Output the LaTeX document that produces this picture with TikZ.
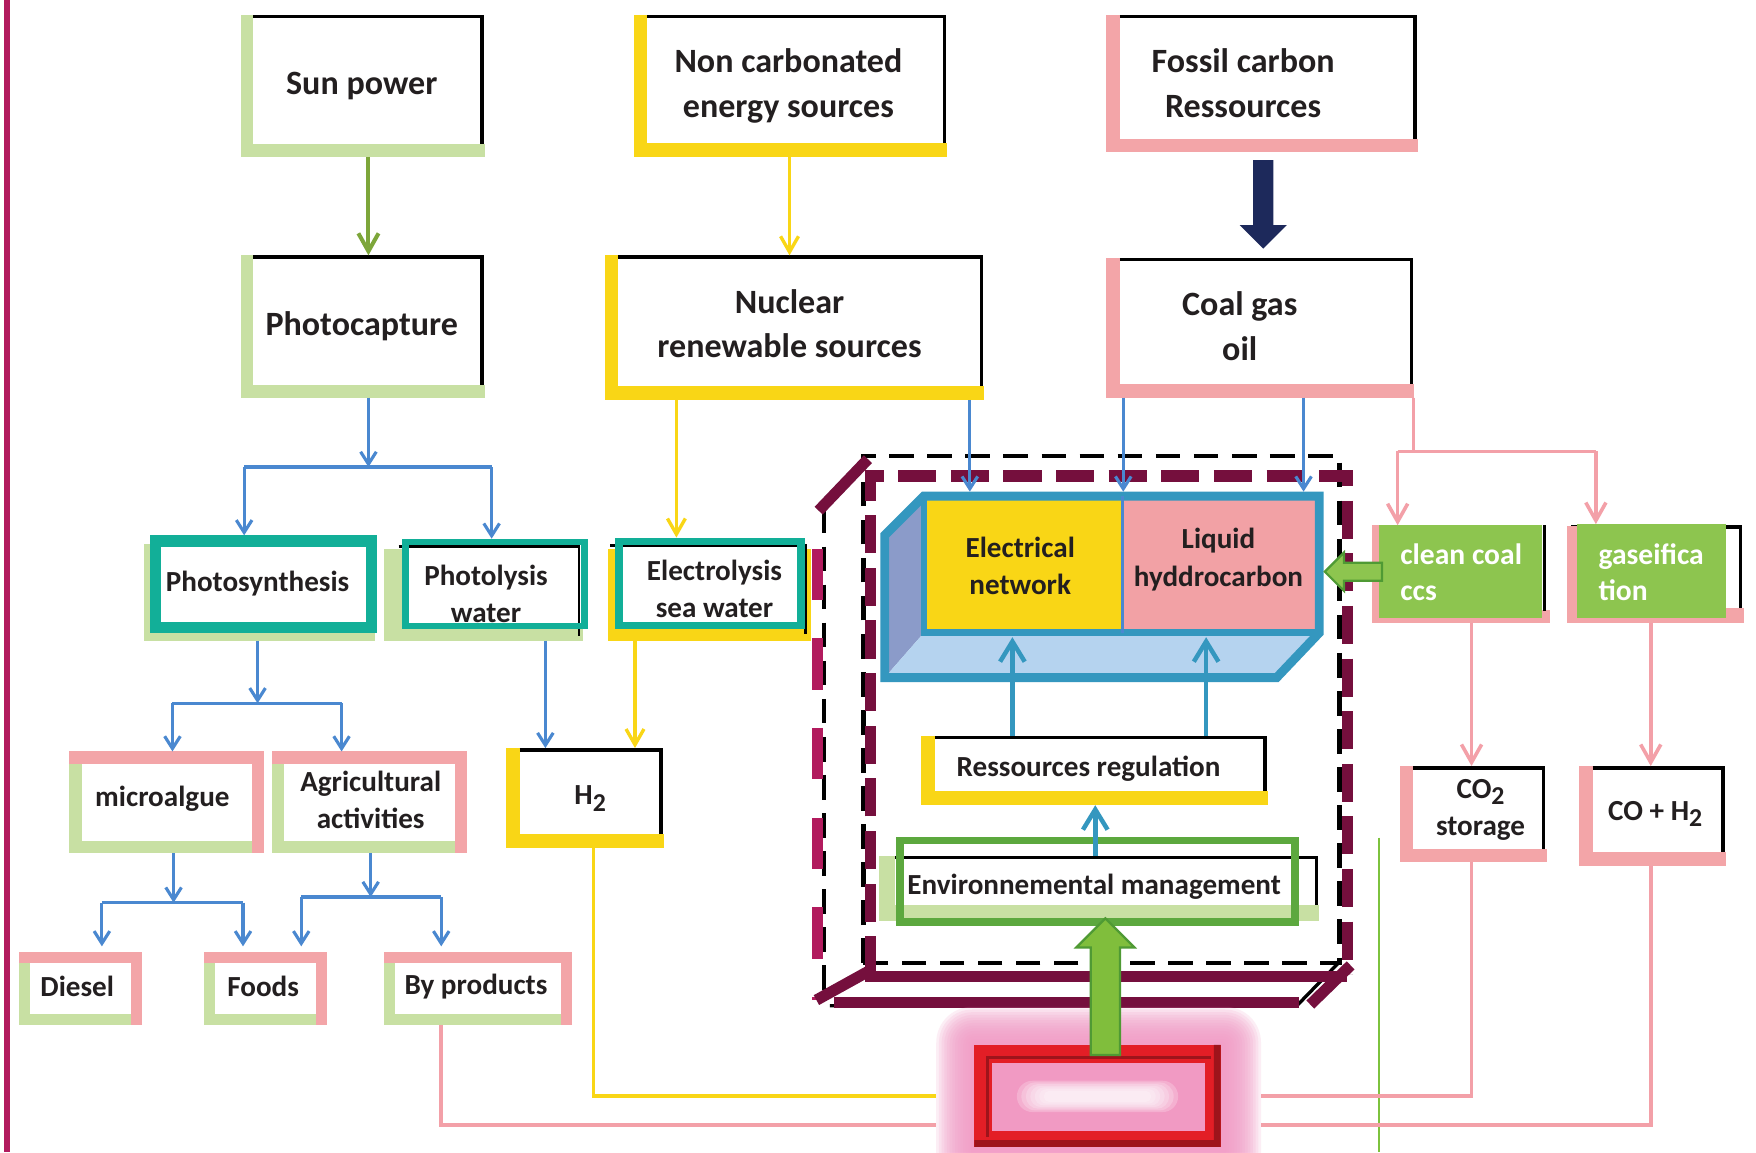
\documentclass[tikz,border=0pt]{standalone}
\usepackage{fontspec}
\setmainfont{Carlito}
\usetikzlibrary{arrows.meta,fit,calc}

\definecolor{lgreen}{HTML}{C8E0A3}
\definecolor{yel}{HTML}{F9D616}
\definecolor{pnk}{HTML}{F3A5A8}
\definecolor{tealc}{HTML}{12AF98}
\definecolor{blu}{HTML}{4A88D0}
\definecolor{steel}{HTML}{3497BF}
\definecolor{maroonc}{HTML}{750F3D}
\definecolor{crim}{HTML}{B21B5E}
\definecolor{navyc}{HTML}{1D295B}
\definecolor{gbox}{HTML}{8DC54F}
\definecolor{gframe}{HTML}{5CA83E}
\definecolor{gdark}{HTML}{4F9A34}
\definecolor{garrow}{HTML}{80BE3C}
\definecolor{olivec}{HTML}{7DA63A}
\definecolor{txtc}{HTML}{231F20}
\definecolor{lface}{HTML}{8B9BC9}
\definecolor{bface}{HTML}{B5D3EF}
\definecolor{lpink}{HTML}{F2A1A5}
\definecolor{redf}{HTML}{E31E26}
\definecolor{redd}{HTML}{9E141B}
\definecolor{glowc}{HTML}{F29BC6}
\definecolor{inpink}{HTML}{F19AC3}
\definecolor{thinline}{HTML}{7DC23D}
\definecolor{pline}{HTML}{F3A0A8}
\definecolor{ylinec}{HTML}{F9D616}

\tikzset{
  boxn/.style={inner sep=0pt, outer sep=0pt, draw=none},
  bigt/.style={inner sep=0pt, align=center, text=txtc, font=\fontsize{15.2pt}{20pt}\selectfont\bfseries},
  smallt/.style={inner sep=0pt, align=center, text=txtc, font=\fontsize{13pt}{16.5pt}\selectfont\bfseries},
  whitet/.style={inner sep=0pt, align=left, text=white, anchor=west, font=\fontsize{13.2pt}{16pt}\selectfont\bfseries},
  bluearr/.style={draw=blu, line width=1.4pt, -{Straight Barb[length=5.5pt,width=7pt]}},
  blueline/.style={draw=blu, line width=1.4pt},
  yelarr/.style={draw=ylinec, line width=1.5pt, -{Straight Barb[length=7pt,width=8pt]}},
  yelline/.style={draw=ylinec, line width=1.5pt},
  pinkarr/.style={draw=pline, line width=1.6pt, -{Straight Barb[length=8pt,width=9pt]}},
  pinkline/.style={draw=pline, line width=1.6pt},
  olivearr/.style={draw=olivec, line width=1.8pt, -{Straight Barb[length=8pt,width=9pt]}},
  steelarr/.style={draw=steel, line width=2pt, -{Straight Barb[length=9pt,width=11pt]}},
  blkdash/.style={draw=black, line width=2pt, dash pattern=on 11pt off 6pt},
  mardash/.style={draw=maroonc, line width=5pt, dash pattern=on 17pt off 6.5pt},
  marsolid/.style={draw=maroonc, line width=5pt},
}

% name, x1, y1, x2, y2, colour, bar thickness
\newcommand\mystdbox[7]{%
  \fill[#6] (#2,#3) rectangle ({#2+#7},#5);
  \fill[#6] (#2,{#5-#7}) rectangle ({#4+1},#5);
  \draw[black,line width=1.6pt] ({#2+#7},{#3+1.6}) -- ({#4-1.6},{#3+1.6}) -- ({#4-1.6},{#5-#7});
  \node[boxn, fit={(#2,#3) (#4,#5)}] (#1) {};
}
% name, x1, y1, x2, y2, bar thickness (pink top/right, green left/bottom)
\newcommand\mypgbox[6]{%
  \fill[pnk] (#2,#3) rectangle (#4,{#3+#6});
  \fill[pnk] ({#4-#6},#3) rectangle (#4,#5);
  \fill[lgreen] (#2,{#3+#6}) rectangle ({#2+#6},#5);
  \fill[lgreen] (#2,{#5-#6}) rectangle ({#4-#6},#5);
  \node[boxn, fit={(#2,#3) (#4,#5)}] (#1) {};
}
\newcommand\lowtwo{\raisebox{-0.45ex}{\fontsize{11.5pt}{12pt}\selectfont 2}}

\begin{document}
\begin{tikzpicture}[x=0.5pt,y=-0.5pt]
\useasboundingbox (0,0) rectangle (1568,1029);
\clip (0,0) rectangle (1568,1029);
\fill[white] (0,0) rectangle (1568,1029);
\draw[crim, line width=2.6pt] (6,0) -- (6,1029);

% ---------- column coordinates ----------
\coordinate (c329) at (329,0);
\coordinate (c705) at (705,0);
\coordinate (c218) at (218,0);
\coordinate (c439) at (439,0);
\coordinate (c230) at (230,0);
\coordinate (c154) at (154,0);
\coordinate (c305) at (305,0);
\coordinate (c487) at (487,0);
\coordinate (c604) at (604,0);
\coordinate (c567) at (567,0);
\coordinate (c155) at (155,0);
\coordinate (c91) at (91,0);
\coordinate (c217) at (217,0);
\coordinate (c331) at (331,0);
\coordinate (c269) at (269,0);
\coordinate (c394) at (394,0);
\coordinate (c530) at (530,0);
\coordinate (c1314) at (1314,0);
\coordinate (c1474) at (1474,0);
\coordinate (c866) at (866,0);
\coordinate (c1003) at (1003,0);
\coordinate (c1164) at (1164,0);
\coordinate (c904) at (904,0);
\coordinate (c1077) at (1077,0);
\coordinate (c978) at (978,0);
\coordinate (c1262) at (1262,0);
\coordinate (c1248) at (1248,0);
\coordinate (c1425) at (1425,0);

% ---------- top boxes ----------
\mystdbox{sun}{215}{13}{432}{140}{lgreen}{11}
\mystdbox{photocap}{215}{228}{432}{355}{lgreen}{11}
\mystdbox{noncarb}{566}{13}{845}{140}{yel}{12}
\mystdbox{nuclear}{540}{228}{878}{357}{yel}{12}
\mystdbox{fossil}{988}{13}{1265}{136}{pnk}{12}
\mystdbox{coalgas}{988}{230}{1262}{355}{pnk}{12}
\node[bigt] (sun-t) at (323,77) {Sun power};
\node[bigt] (photocap-t) at (323,291) {Photocapture};
\node[bigt] (noncarb-t) at (704,77) {Non carbonated\\energy sources};
\node[bigt] (nuclear-t) at (705,289) {Nuclear\\renewable sources};
\node[bigt] (fossil-t) at (1110,74) {Fossil carbon\\Ressources};
\node[bigt] (coalgas-t) at (1107,291) {Coal gas\\oil};

% ---------- teal boxes ----------
\fill[lgreen] (129,486) rectangle (335,572);
\draw[tealc, line width=5pt, fill=white] (139,483) rectangle (332,560);
\node[boxn, fit={(129,478) (337,572)}] (photosyn) {};
\node[smallt] (photosyn-t) at (230,521) {Photosynthesis};

\fill[lgreen] (343,490) rectangle (521,572);
\fill[white] (362,484) rectangle (522,559);
\draw[black, line width=1.3pt] (356,488) -- (517,488) -- (517,568);
\draw[tealc, line width=3pt] (362,484) rectangle (522,559);
\node[boxn, fit={(343,481) (525,572)}] (photolys) {};
\node[smallt] (photolys-t) at (434,530) {Photolysis\\water};

\fill[yel] (543,490) rectangle (724,572);
\fill[white] (552,484) rectangle (715,559);
\draw[black, line width=1.3pt] (545,487) -- (719,487) -- (719,566);
\draw[tealc, line width=3.5pt] (552.5,483.5) rectangle (715.5,558.5);
\node[boxn, fit={(543,480) (722,572)}] (electrolys) {};
\node[smallt] (electrolys-t) at (638,526) {Electrolysis\\sea water};

% ---------- lower left boxes ----------
\mypgbox{microalg}{62}{671}{236}{762}{11}
\mypgbox{agri}{243}{671}{417}{762}{11}
\mystdbox{htwo}{452}{668}{592}{757}{yel}{12}
\mypgbox{diesel}{17}{850}{127}{915}{10}
\mypgbox{foods}{182}{850}{292}{915}{10}
\mypgbox{byprod}{343}{850}{511}{915}{10}
\node[smallt] (microalg-t) at (145,713) {microalgue};
\node[smallt] (agri-t) at (331,714) {Agricultural\\activities};
\node[smallt] (htwo-t) at (527,713) {H\lowtwo};
\node[smallt] (diesel-t) at (69,881) {Diesel};
\node[smallt] (foods-t) at (235,881) {Foods};
\node[smallt] (byprod-t) at (425,881) {By products};

% ---------- dashed container ----------
\draw[blkdash] (771,860) -- (771,407) -- (1196,407) -- (1196,860) -- cycle;
\draw[blkdash] (736,454) -- (736,895);
\draw[black, line width=1.5pt] (741,898) -- (1158,898) -- (1195,860);
\draw[crim, line width=4.5pt, dash pattern=on 23pt off 17pt] (730,490) -- (730,893);
\draw[mardash] (777,870) -- (777,425) -- (1203,425) -- (1203,870);
\draw[marsolid] (772,872) -- (1203,872);
\draw[marsolid] (745,895) -- (1160,895);
\draw[marsolid] (731,456) -- (775,410);
\draw[marsolid] (729,893) -- (776,867);
\draw[marsolid] (1170,897) -- (1206,862);

% ---------- electrical / liquid box ----------
\fill[lface] (790,478) -- (825,443) -- (825,565) -- (790,605) -- cycle;
\fill[bface] (825,565) -- (1178,565) -- (1140,605) -- (790,605) -- cycle;
\fill[yel] (825,443) rectangle (1002,565);
\fill[lpink] (1002,443) rectangle (1178,565);
\draw[steel, line width=4pt, line join=miter] (790,478) -- (825,443) -- (1178,443) -- (1178,565) -- (1140,605) -- (790,605) -- cycle;
\draw[steel, line width=3pt] (825,443) -- (825,565) -- (1178,565);
\draw[blu, line width=1.4pt] (1002,443) -- (1002,565);
\node[boxn, fit={(821,439) (1002,569)}] (elec) {};
\node[boxn, fit={(1002,439) (1182,569)}] (liquid) {};
\node[smallt] (elec-t) at (911,505) {Electrical\\network};
\node[smallt, font=\fontsize{13pt}{17pt}\selectfont\bfseries] (liquid-t) at (1088,500) {Liquid\\hyddrocarbon};

% ---------- regulation / management ----------
\mystdbox{resreg}{822}{657}{1131}{719}{yel}{13}
\node[smallt] (resreg-t) at (972,686) {Ressources regulation};
\mystdbox{envm}{785}{764}{1177}{822}{lgreen}{14}
\draw[gframe, line width=3.5pt] (803.5,750.5) rectangle (1156.5,823.5);
\node[smallt] (envm-t) at (977,792) {Environnemental management};

% ---------- right boxes ----------
\fill[pnk] (1225,469) rectangle (1231,556);
\fill[pnk] (1225,545) rectangle (1384,556);
\fill[gbox] (1231,469) rectangle (1377,552);
\draw[black, line width=1.4pt] (1379,469) -- (1379,546);
\node[boxn, fit={(1225,469) (1383,556)}] (clean) {};
\node[whitet] (clean-t) at (1250,511) {clean coal\\ccs};

\draw[black, line width=1.6pt] (1403,470.8) -- (1554,470.8) -- (1554,545);
\fill[pnk] (1399,470) rectangle (1409,556);
\fill[pnk] (1399,543) rectangle (1557,556);
\fill[gbox] (1408,468) rectangle (1541,552);
\node[boxn, fit={(1399,468) (1557,556)}] (gaseif) {};
\node[whitet] (gaseif-t) at (1427,511) {gaseifica\\tion};

\mystdbox{cotwo}{1250}{684}{1380}{770}{pnk}{12}
\mystdbox{coh}{1410}{684}{1540}{773}{pnk}{12}
\node[smallt] (cotwo-t) at (1322,723) {CO\lowtwo\\storage};
\node[smallt] (coh-t) at (1478,727) {CO + H\lowtwo};

% ---------- branch points ----------
\coordinate (b1) at (329,417);
\coordinate (bl1) at (218,417);
\coordinate (br1) at (439,417);
\coordinate (b2) at (230,628);
\coordinate (bl2) at (154,628);
\coordinate (br2) at (305,628);
\coordinate (b3) at (155,806);
\coordinate (bl3) at (91,806);
\coordinate (br3) at (217,806);
\coordinate (b4) at (331,801);
\coordinate (bl4) at (269,801);
\coordinate (br4) at (394,801);
\coordinate (b5) at (1262,403);
\coordinate (bl5) at (1248,403);
\coordinate (br5) at (1425,403);

% ---------- connectors ----------
\draw[olivearr] (sun.south -| c329) -- (photocap.north -| c329);
\draw[yelarr] (noncarb.south -| c705) -- (nuclear.north -| c705);

\draw[bluearr] (photocap.south -| c329) -- (b1);
\draw[blueline] (bl1) -- (br1);
\draw[bluearr] (bl1) -- (photosyn.north -| bl1);
\draw[bluearr] (br1) -- (photolys.north -| br1);

\draw[bluearr] (photosyn.south -| c230) -- (b2);
\draw[blueline] (bl2) -- (br2);
\draw[bluearr] (bl2) -- (microalg.north -| bl2);
\draw[bluearr] (br2) -- (agri.north -| br2);

\draw[bluearr] (photolys.south -| c487) -- (htwo.north -| c487);
\draw[yelarr] (nuclear.south -| c604) -- (electrolys.north -| c604);
\draw[yelarr] (electrolys.south -| c567) -- (htwo.north -| c567);

\draw[bluearr] (microalg.south -| c155) -- (b3);
\draw[blueline] (bl3) -- (br3);
\draw[bluearr] (bl3) -- ([yshift=2.5pt]diesel.north -| bl3);
\draw[bluearr] (br3) -- ([yshift=2.5pt]foods.north -| br3);

\draw[bluearr] (agri.south -| c331) -- (b4);
\draw[blueline] (bl4) -- (br4);
\draw[bluearr] (bl4) -- ([yshift=2.5pt]foods.north -| bl4);
\draw[bluearr] (br4) -- ([yshift=2.5pt]byprod.north -| br4);

\draw[bluearr] (nuclear.south -| c866) -- (elec.north -| c866);
\draw[bluearr] (coalgas.south -| c1003) -- (elec.north -| c1003);
\draw[bluearr] (coalgas.south -| c1164) -- (liquid.north -| c1164);

\draw[steelarr] (resreg.north -| c904) -- (elec.south -| c904);
\draw[steelarr] (resreg.north -| c1077) -- (liquid.south -| c1077);
\draw[steelarr] (envm.north -| c978) -- (resreg.south -| c978);

\draw[pinkline] (coalgas.south -| c1262) -- (b5);
\draw[pinkline] (bl5) -- (br5);
\draw[pinkarr] (bl5) -- (clean.north -| bl5);
\draw[pinkarr] (br5) -- (gaseif.north -| br5);
\draw[pinkarr] (clean.south -| c1314) -- (cotwo.north -| c1314);
\draw[pinkarr] (gaseif.south -| c1474) -- (coh.north -| c1474);

% navy block arrow
\fill[navyc] let \p1=(fossil.south), \p2=(coalgas.north) in
  (\x1-3.75pt,\y1-3.5pt) -- (\x1-3.75pt,\y2+14.5pt) -- (\x1-9.75pt,\y2+14.5pt) --
  (\x1+0.75pt,\y2+4pt) -- (\x1+11.25pt,\y2+14.5pt) -- (\x1+5.25pt,\y2+14.5pt) --
  (\x1+5.25pt,\y1-3.5pt) -- cycle;

% green left arrow clean -> liquid
\draw[gdark, fill=gbox, line width=1pt] let \p1=(clean.west), \p2=(liquid.east) in
  (\x1+4.5pt,\y1+5pt) -- (\x2+9pt,\y1+5pt) -- (\x2+9pt,\y1+9.5pt) -- (\x2+0.5pt,\y1+1pt) --
  (\x2+9pt,\y1-7.5pt) -- (\x2+9pt,\y1-3pt) -- (\x1+4.5pt,\y1-3pt) -- cycle;

% ---------- thin green line ----------
\draw[thinline, line width=0.8pt] (1231,748) -- (1231,1029);

% ---------- red glowing box ----------
\node[boxn, fit={(870,933) (1090,1024)}] (redbox) {};
\draw[yelline, shorten >=17pt] (htwo.south -| c530) |- (redbox.west);
\draw[pinkline, shorten >=17pt] (byprod.south -| c394) |- ([yshift=-13pt]redbox.west);
\draw[pinkline, shorten >=18pt] (cotwo.south -| c1314) |- (redbox.east);
\draw[pinkline, shorten >=18pt] (coh.south -| c1474) |- ([yshift=-13pt]redbox.east);

\foreach \i in {0,...,13}{
  \pgfmathsetmacro\d{2.4*\i}
  \pgfmathsetmacro\rc{max(2,16-\i*1.1)}
  \fill[glowc, opacity=0.17, rounded corners={\rc*1pt}] ({836+\d},{899+\d}) rectangle ({1126-\d},{1070-\d});
}
\fill[redf] (870,933) rectangle (1090,1024);
\fill[redd] (1084,933) -- (1090,933) -- (1090,1024) -- (870,1024) -- (870,1018) -- (1084,1018) -- cycle;
\fill[redd] (880,943) rectangle (1081,1015);
\fill[redf] (883,946) rectangle (1081,1015);
\fill[inpink] (886,949) rectangle (1076,1010);
\foreach \i in {0,...,6}{
  \pgfmathsetmacro\hw{72-\i*4}
  \pgfmathsetmacro\hh{14-\i*1.5}
  \fill[white, opacity=0.22, rounded corners={\hh*0.5pt}] ({980-\hw},{979-\hh}) rectangle ({980+\hw},{979+\hh});
}

% green up arrow redbox -> envm
\draw[gdark, fill=garrow, line width=1pt] let \p1=(redbox.north), \p2=(envm.south) in
  (\x1-3pt,\y1-4.5pt) -- (\x1-3pt,\y2-12pt) -- (\x1-9.5pt,\y2-12pt) -- (\x1+3.5pt,\y2+1pt) --
  (\x1+16.5pt,\y2-12pt) -- (\x1+10pt,\y2-12pt) -- (\x1+10pt,\y1-4.5pt) -- cycle;

\end{tikzpicture}
\end{document}
